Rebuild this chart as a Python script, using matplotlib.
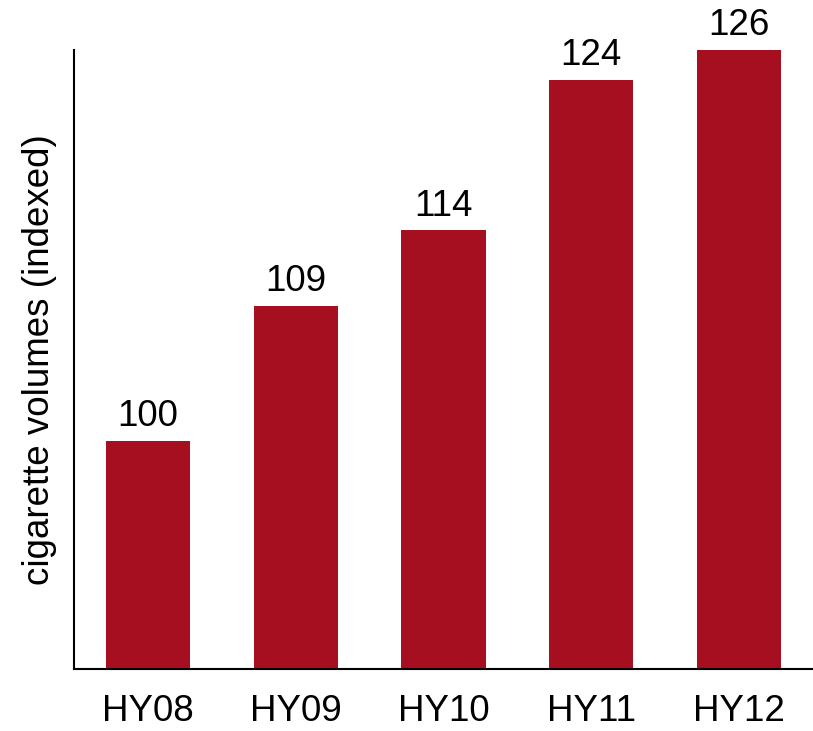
import matplotlib.pyplot as plt

plt.rcParams["font.family"] = ["Liberation Sans", "DejaVu Sans"]

periods = ["HY08", "HY09", "HY10", "HY11", "HY12"]
volumes = [100, 109, 114, 124, 126]

bar_color = "#A50F20"

fig = plt.figure(figsize=(8.13, 7.31), dpi=100)
ax = fig.add_axes([0.091, 0.085, 0.909, 0.847])

x = range(len(periods))
bars = ax.bar(x, volumes, width=0.57, color=bar_color)

for rect, val in zip(bars, volumes):
    ax.annotate(
        str(val),
        xy=(rect.get_x() + rect.get_width() / 2, rect.get_height()),
        xytext=(0, 5),
        textcoords="offset points",
        ha="center",
        va="bottom",
        fontsize=26.5,
        annotation_clip=False,
    )

ax.set_xlim(-0.5, 4.5)
ax.set_ylim(84.9, 126)
ax.set_xticks(list(x))
ax.set_xticklabels(periods, fontsize=26.5)
ax.tick_params(axis="x", length=0, pad=18)
ax.set_yticks([])
ax.set_ylabel("cigarette volumes (indexed)", fontsize=26.5, labelpad=12)

ax.spines["top"].set_visible(False)
ax.spines["right"].set_visible(False)
ax.spines["left"].set_linewidth(1.5)
ax.spines["bottom"].set_linewidth(1.5)

fig.savefig("out.png", dpi=100)
